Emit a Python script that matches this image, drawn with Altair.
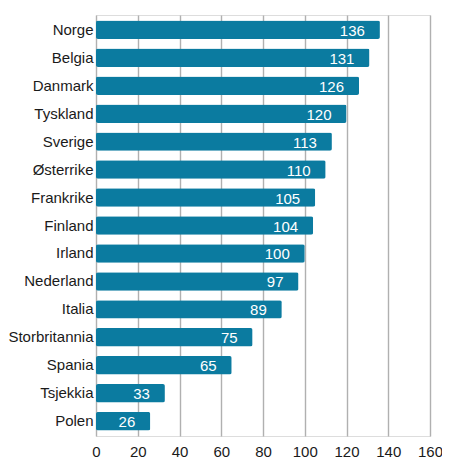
import altair as alt
import pandas as pd

countries = ["Norge", "Belgia", "Danmark", "Tyskland", "Sverige", "Østerrike",
             "Frankrike", "Finland", "Irland", "Nederland", "Italia",
             "Storbritannia", "Spania", "Tsjekkia", "Polen"]
values = [136, 131, 126, 120, 113, 110, 105, 104, 100, 97, 89, 75, 65, 33, 26]

df = pd.DataFrame({"land": countries, "verdi": values})

base = alt.Chart(df).encode(
    y=alt.Y("land:N", sort=countries, title=None,
            scale=alt.Scale(paddingInner=0.34, paddingOuter=0.2),
            axis=alt.Axis(ticks=False, domain=False, labelPadding=3,
                          labelFontSize=15, labelColor="#1a1a1a", grid=False)),
)

bars = base.mark_bar(color="#0b7ba0", cornerRadius=2).encode(
    x=alt.X("verdi:Q", title=None,
            scale=alt.Scale(domain=[0, 160], nice=False),
            axis=alt.Axis(values=list(range(0, 161, 20)), ticks=False, domain=False,
                          labelPadding=8, labelFontSize=15, labelColor="#1a1a1a",
                          labelFlush=False,
                          grid=True, gridColor="#b0b0b0", gridWidth=1.4))
)

labels = base.mark_text(align="right", baseline="middle", dx=-15, dy=1,
                        color="white", fontSize=15).encode(
    x="verdi:Q",
    text="verdi:Q"
)

chart = (bars + labels).properties(
    width=334,
    height=421,
    autosize=alt.AutoSizeParams(type="none"),
    padding={"left": 88, "top": 7, "right": 12, "bottom": 30},
).configure_view(
    stroke=None
).configure(
    font="Liberation Sans"
)

chart.save("out.html", embed_options={"renderer": "svg", "actions": False})
